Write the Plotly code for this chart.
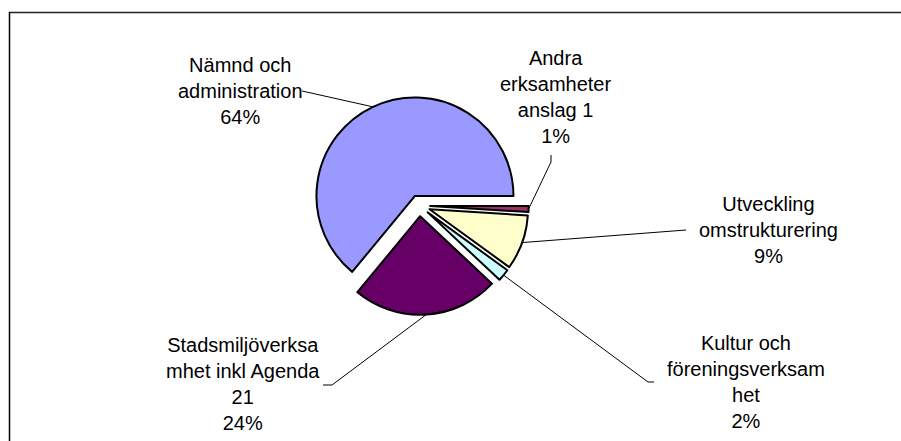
import math
import plotly.graph_objects as go

# ---- data ----
categories = ["Andra verksamheter anslag 1", "Utveckling omstrukturering",
              "Kultur och föreningsverksamhet", "Stadsmiljöverksamhet inkl Agenda 21",
              "Nämnd och administration"]
label_text = ["Andra<br>erksamheter<br>anslag 1", "Utveckling<br>omstrukturering",
              "Kultur och<br>föreningsverksam<br>het", "Stadsmiljöverksa<br>mhet inkl Agenda<br>21",
              "Nämnd och<br>administration"]
values = [1, 9, 2, 24, 64]
colors = ["#993366", "#FFFFCC", "#CCFFFF", "#660066", "#9999FF"]

# ---- layout constants (pixels) ----
W, H = 901, 441
CX, CY = 419.5, 205.6      # pie centre
R = 98.5                   # radius
PULL = 0.108               # explode fraction
ROT = 90

label_pos = [(555, 97), (768, 230), (746, 382), (243, 384), (240, 91)]
label_elbow = [[(551, 155), (551, 162)], [(686, 230)], [(654, 382), (648, 382)],
               [(323, 385), (332, 385)], [(302, 91)]]

ext = R * (1 + PULL)
fig = go.Figure()
fig.add_trace(go.Pie(
    labels=categories, values=values, sort=False, direction="clockwise",
    rotation=ROT, pull=[PULL] * len(values), textinfo="none", hoverinfo="label+percent",
    marker=dict(colors=colors, line=dict(color="black", width=2)),
    domain=dict(x=[(CX - ext) / W, (CX + ext) / W], y=[1 - (CY + ext) / H, 1 - (CY - ext) / H]),
    showlegend=False,
))

total = sum(values)
cum = 0
shapes = []
annotations = []
for i, v in enumerate(values):
    mid = ROT + (cum + v / 2) / total * 360
    cum += v
    a = math.radians(mid)
    ax, ay = CX + ext * math.sin(a), CY - ext * math.cos(a)
    pts = label_elbow[i] + [(ax, ay)]
    path = "M " + " L ".join(f"{x},{y}" for x, y in pts)
    shapes.append(dict(type="path", xref="x", yref="y", path=path,
                       line=dict(color="black", width=1)))
    pct = round(v / total * 100)
    lx, ly = label_pos[i]
    annotations.append(dict(x=lx, y=ly, xref="x", yref="y", showarrow=False,
                            text=f"{label_text[i]}<br>{pct}%", align="center",
                            xanchor="center", yanchor="middle",
                            font=dict(family="Liberation Sans, Arial", size=20, color="black")))

# chart border (only top and left edges are visible in the crop)
shapes.append(dict(type="line", xref="paper", yref="paper", x0=9 / W, y0=1 - 12.5 / H,
                   x1=1.0, y1=1 - 12.5 / H, line=dict(color="#222222", width=1.5)))
shapes.append(dict(type="line", xref="paper", yref="paper", x0=9.5 / W, y0=1 - 12 / H,
                   x1=9.5 / W, y1=0.0, line=dict(color="black", width=1.5)))

fig.update_layout(
    width=W, height=H, margin=dict(l=0, r=0, t=0, b=0), autosize=False,
    paper_bgcolor="white", plot_bgcolor="rgba(0,0,0,0)",
    xaxis=dict(range=[0, W], visible=False, fixedrange=True, showline=False, zeroline=False),
    yaxis=dict(range=[H, 0], visible=False, fixedrange=True, showline=False, zeroline=False),
    shapes=shapes, annotations=annotations,
)
fig.write_html("out.html", config={"displayModeBar": False},
               post_script=("document.body.style.margin='0';document.body.style.overflow='hidden';"
                            "document.documentElement.style.overflow='hidden';"))
